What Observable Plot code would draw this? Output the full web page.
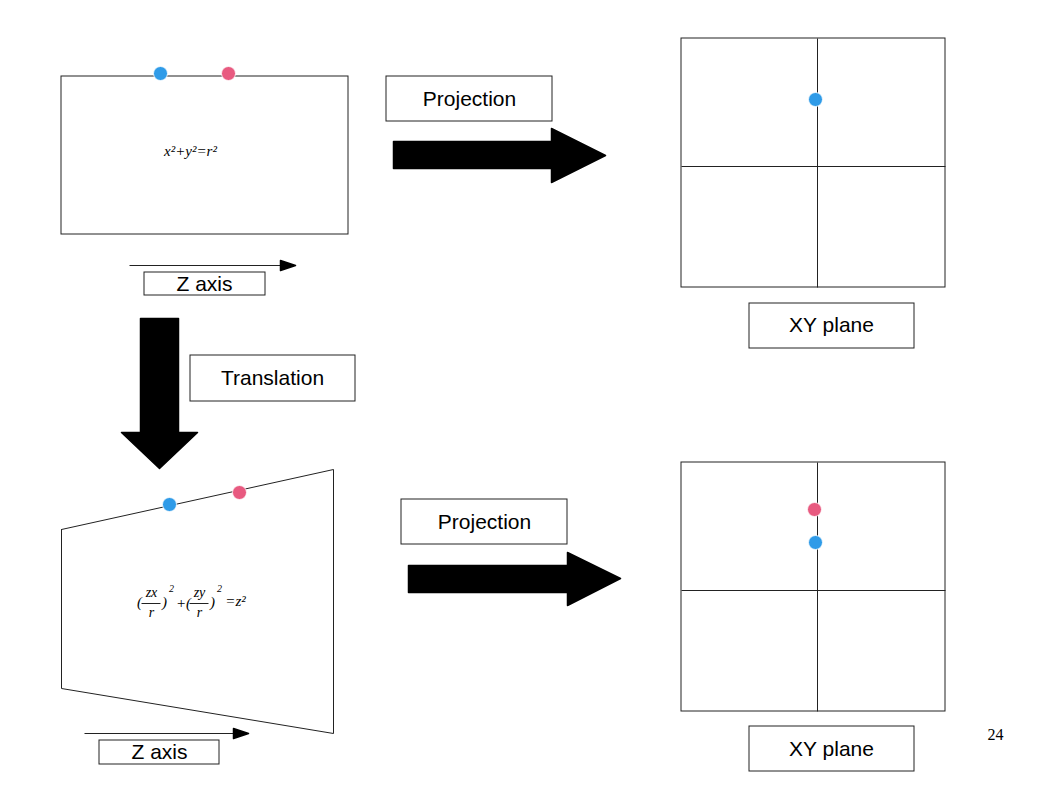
<!DOCTYPE html>
<html><head><meta charset="utf-8">
<script src="https://cdn.jsdelivr.net/npm/d3@7"></script>
<script src="https://cdn.jsdelivr.net/npm/@observablehq/plot@0.6"></script>
<style>body{margin:0;background:#fff}</style>
</head><body><div id="c"></div>
<script>
const boxes = [
  {x1:61,y1:76,x2:348,y2:234},
  {x1:144,y1:272,x2:265,y2:295},
  {x1:386,y1:76,x2:552,y2:121},
  {x1:681,y1:38,x2:945,y2:287},
  {x1:749,y1:303,x2:914,y2:348},
  {x1:190,y1:355,x2:355,y2:401},
  {x1:99,y1:740,x2:219,y2:764},
  {x1:401,y1:499,x2:567,y2:544},
  {x1:681,y1:462,x2:945,y2:711},
  {x1:749,y1:726,x2:914,y2:771}
];
const labels = [
  {x:204,y:284,t:"Z axis"},{x:469,y:99,t:"Projection"},{x:831,y:325,t:"XY plane"},
  {x:272,y:378,t:"Translation"},{x:159,y:752,t:"Z axis"},{x:484,y:522,t:"Projection"},
  {x:831,y:749,t:"XY plane"}
];
const gridLines = [
  {x1:817,y1:38,x2:817,y2:287},{x1:681,y1:166,x2:945,y2:166},
  {x1:817,y1:462,x2:817,y2:711},{x1:681,y1:590,x2:945,y2:590},
  {x1:141,y1:603,x2:160,y2:603},{x1:189,y1:603,x2:208,y2:603},
  {x1:129,y1:265,x2:282,y2:265},{x1:84,y1:733,x2:235,y2:733}
];
const bigArrows = [
  {id:1,pts:[[393,141],[551,141],[551,128],[605,155],[551,182],[551,168],[393,168]]},
  {id:2,pts:[[408,565],[567,565],[567,552],[620,578],[567,605],[567,592],[408,592]]},
  {id:3,pts:[[140,318],[178,318],[178,432],[197,432],[159,468],[121,432],[140,432]]},
  {id:4,pts:[[280,260],[295,265],[280,270]]},
  {id:5,pts:[[233,728],[248,733],[233,738]]}
];
const trapezoid = [[61,529],[333,469],[333,733],[61,688],[61,529]];
const dots = [
  {x:160,y:73,c:"blue"},{x:228,y:73,c:"pink"},{x:815,y:99,c:"blue"},
  {x:169,y:504,c:"blue"},{x:239,y:492,c:"pink"},{x:814,y:509,c:"pink"},{x:815,y:542,c:"blue"}
];
const mathText = [
  {x:190,y:151,t:"x²+y²=r²",s:15},
  {x:139,y:602,t:"(",s:15},{x:151,y:592,t:"zx",s:14},{x:151,y:612,t:"r",s:14},
  {x:164,y:602,t:")",s:15},{x:171,y:588,t:"2",s:10},{x:183,y:603,t:"+(",s:15},
  {x:199,y:592,t:"zy",s:14},{x:199,y:612,t:"r",s:14},{x:212,y:602,t:")",s:15},
  {x:219,y:588,t:"2",s:10},{x:235,y:601,t:"=z²",s:15}
];
const bigPts = bigArrows.flatMap(a => a.pts.map(p => ({id:a.id,x:p[0],y:p[1]})));
const trapPts = trapezoid.map(p => ({x:p[0],y:p[1]}));
const colors = {blue:"#2f9be8", pink:"#e85a80"};

const plot = Plot.plot({
  width:1058, height:794, margin:0,
  x:{type:"identity"}, y:{type:"identity"}, axis:null,
  marks:[
    Plot.rect(boxes,{x1:"x1",y1:"y1",x2:"x2",y2:"y2",fill:"white",stroke:"#222",strokeWidth:1}),
    Plot.link(gridLines,{x1:"x1",y1:"y1",x2:"x2",y2:"y2",stroke:"#222"}),
    Plot.line(trapPts,{x:"x",y:"y",stroke:"#222",strokeWidth:1}),
    Plot.line(bigPts,{x:"x",y:"y",z:"id",fill:"black",stroke:"black",curve:"linear-closed"}),
    Plot.text(labels,{x:"x",y:"y",text:"t",fontSize:21,fontFamily:"Liberation Sans",fill:"black"}),
    Plot.text(mathText,{x:"x",y:"y",text:"t",fontSize:d=>d.s,fontFamily:"Liberation Serif",fontStyle:"italic",fill:"black"}),
    Plot.text(["24"],{x:995,y:734,text:d=>d,fontSize:16,fontFamily:"Liberation Serif",fill:"black"}),
    Plot.dot(dots,{x:"x",y:"y",r:7,fill:d=>colors[d.c],stroke:"white",strokeWidth:0.8})
  ]
});
document.getElementById("c").append(plot);
</script></body></html>
